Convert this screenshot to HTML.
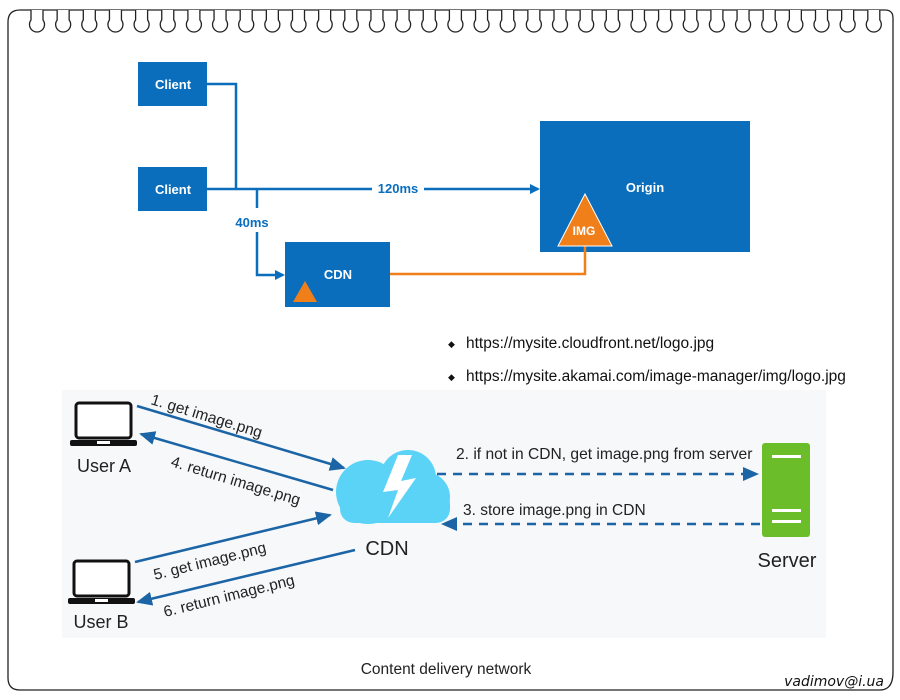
<!DOCTYPE html>
<html><head><meta charset="utf-8"><style>
html,body{margin:0;padding:0;background:#fff;}
svg{display:block;font-family:"Liberation Sans",sans-serif;}
</style></head><body>
<svg width="900" height="700" viewBox="0 0 900 700" xmlns="http://www.w3.org/2000/svg">
<defs>
<marker id="ab" markerWidth="10" markerHeight="10" refX="8" refY="5" orient="auto" markerUnits="userSpaceOnUse"><path d="M0,0 L10,5 L0,10 z" fill="#0a6ebd"/></marker>
<marker id="ad" markerWidth="16" markerHeight="14" refX="14" refY="7" orient="auto" markerUnits="userSpaceOnUse"><path d="M0,0 L16,7 L0,14 z" fill="#1b65a6"/></marker>
</defs>
<path d="M20,10 L885,10 Q893,10 893,18 L893,672 Q893,690 880,690 L20,690 Q8,690 8,678 L8,22 Q8,10 20,10 Z" fill="none" stroke="#222" stroke-width="1.3"/>
<g fill="#fff" stroke="#222" stroke-width="1.3" id="loops"></g>
<rect x="62" y="390" width="764" height="248" fill="#f6f8fa"/>
<g fill="#0a6ebd">
<rect x="138" y="62" width="69" height="44"/>
<rect x="138" y="167" width="69" height="44"/>
<rect x="285" y="242" width="105" height="65"/>
<rect x="540" y="121" width="210" height="131"/>
</g>
<g fill="#fff" font-size="13" font-weight="bold" text-anchor="middle">
<text x="173" y="89">Client</text>
<text x="173" y="194">Client</text>
<text x="338" y="279">CDN</text>
<text x="645" y="192">Origin</text>
</g>
<g stroke="#0a6ebd" stroke-width="2.5" fill="none">
<polyline points="207,84 236,84 236,189"/>
<line x1="207" y1="189" x2="372" y2="189"/>
<line x1="424" y1="189" x2="538" y2="189" marker-end="url(#ab)"/>
<line x1="257" y1="189" x2="257" y2="208"/>
<polyline points="257,232 257,275 283,275" marker-end="url(#ab)"/>
</g>
<g fill="#0a6ebd" font-size="13" font-weight="bold">
<text x="398" y="193" text-anchor="middle">120ms</text>
<text x="252" y="227" text-anchor="middle">40ms</text>
</g>
<polyline points="390,274 585,274 585,246" fill="none" stroke="#f07f1a" stroke-width="2.5"/>
<polygon points="585,194 558,246 612,246" fill="#f07f1a" stroke="#fff" stroke-width="1"/>
<text x="584" y="235" fill="#fff" font-size="12" font-weight="bold" text-anchor="middle">IMG</text>
<polygon points="305,281 293,302 317,302" fill="#f07f1a"/>
<g font-size="15.5" fill="#111">
<text x="448" y="347" font-size="9">◆</text><text x="466" y="348">https://mysite.cloudfront.net/logo.jpg</text>
<text x="448" y="380" font-size="9">◆</text><text x="466" y="381">https://mysite.akamai.com/image-manager/img/logo.jpg</text>
</g>
<g>
<rect x="76" y="403" width="55" height="35" rx="3" fill="#fff" stroke="#111" stroke-width="3"/>
<rect x="70" y="440" width="67" height="6" rx="2" fill="#111"/>
<rect x="97" y="441" width="13" height="3" fill="#fff"/>
<rect x="74" y="561" width="55" height="35" rx="3" fill="#fff" stroke="#111" stroke-width="3"/>
<rect x="68" y="598" width="67" height="6" rx="2" fill="#111"/>
<rect x="95" y="599" width="13" height="3" fill="#fff"/>
</g>
<g font-size="18" fill="#222" text-anchor="middle">
<text x="104" y="472">User A</text>
<text x="101" y="628">User B</text>
<text x="387" y="555" font-size="20">CDN</text>
<text x="787" y="567" font-size="20">Server</text>
</g>
<g fill="#5bd3f7">
<circle cx="368" cy="492" r="32"/>
<circle cx="408" cy="478" r="28"/>
<circle cx="425" cy="497" r="25"/>
<rect x="340" y="490" width="110" height="33" rx="14"/>
</g>
<polygon points="398,455 383,492 398,490 388,518 416,478 401,481 412,455" fill="#fff"/>
<rect x="762" y="443" width="48" height="94" rx="3" fill="#6cbd2a"/>
<g fill="#fff"><rect x="772" y="455" width="29" height="3"/><rect x="772" y="509" width="29" height="3"/><rect x="772" y="520" width="29" height="3"/></g>
<g stroke="#1b65a6" stroke-width="2.5" fill="none">
<line x1="137" y1="406" x2="344" y2="468" marker-end="url(#ad)"/>
<line x1="333" y1="490" x2="141" y2="434" marker-end="url(#ad)"/>
<line x1="135" y1="562" x2="330" y2="515" marker-end="url(#ad)"/>
<line x1="355" y1="550" x2="138" y2="602" marker-end="url(#ad)"/>
<line x1="437" y1="474" x2="757" y2="474" stroke-dasharray="9,7" marker-end="url(#ad)"/>
<line x1="760" y1="524" x2="443" y2="524" stroke-dasharray="9,7" marker-end="url(#ad)"/>
</g>
<g font-size="15.5" fill="#222">
<text transform="translate(150,404) rotate(17)">1. get image.png</text>
<text transform="translate(170,466) rotate(17)">4. return image.png</text>
<text transform="translate(155,580) rotate(-14)">5. get image.png</text>
<text transform="translate(165,617) rotate(-14)">6. return image.png</text>
<text x="456" y="459" font-size="15.6">2. if not in CDN, get image.png from server</text>
<text x="463" y="515">3. store image.png in CDN</text>
<text x="446" y="674" text-anchor="middle">Content delivery network</text>
</g>
<text x="884" y="686" text-anchor="end" font-size="14" font-style="italic" fill="#111" font-family="'DejaVu Sans',sans-serif">vadimov@i.ua</text>
</svg>
<script>
var g=document.getElementById('loops'),s='';
for(var i=0;i<33;i++){var x=31+i*26.15;s+='<path d="M'+x+',10 L'+x+',20 A7.5,7.5 0 1 0 '+(x+12)+',20 L'+(x+12)+',10" />';}
g.innerHTML=s;
</script>
</body></html>
